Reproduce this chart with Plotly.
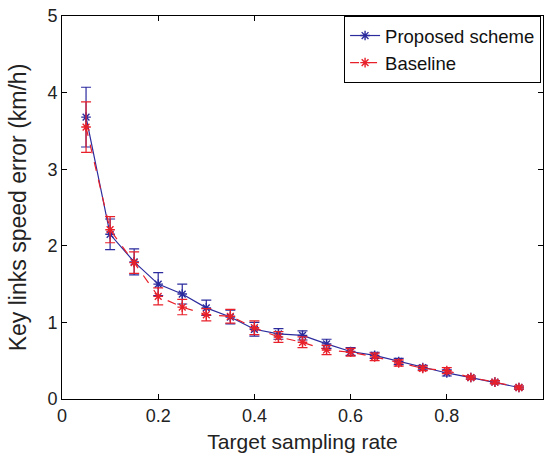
import plotly.graph_objects as go

rate = [0.05, 0.10, 0.15, 0.20, 0.25, 0.30, 0.35, 0.40, 0.45, 0.50,
        0.55, 0.60, 0.65, 0.70, 0.75, 0.80, 0.85, 0.90, 0.95]
proposed = [3.68, 2.15, 1.79, 1.50, 1.37, 1.19, 1.07, 0.91, 0.85, 0.83,
            0.72, 0.62, 0.57, 0.49, 0.41, 0.34, 0.28, 0.22, 0.15]
proposed_err = [0.39, 0.20, 0.17, 0.15, 0.13, 0.10, 0.09, 0.09, 0.07, 0.06,
                0.06, 0.05, 0.04, 0.04, 0.03, 0.04, 0.02, 0.02, 0.02]
baseline = [3.55, 2.21, 1.78, 1.34, 1.20, 1.10, 1.08, 0.93, 0.81, 0.74,
            0.64, 0.61, 0.55, 0.47, 0.40, 0.37, 0.28, 0.22, 0.15]
baseline_err = [0.33, 0.17, 0.14, 0.11, 0.10, 0.08, 0.09, 0.09, 0.07, 0.07,
                0.06, 0.05, 0.05, 0.04, 0.03, 0.04, 0.02, 0.02, 0.02]

blue = "#2b2b9e"
red = "#e8202a"

fig = go.Figure()
fig.add_trace(go.Scatter(
    x=rate, y=proposed, name="Proposed scheme", mode="lines+markers",
    line=dict(color=blue, width=1.2),
    marker=dict(symbol="asterisk-open", size=8, color=blue, line=dict(color=blue, width=1.4)),
    error_y=dict(type="data", array=proposed_err, color=blue, thickness=1.2, width=5),
))
fig.add_trace(go.Scatter(
    x=rate, y=baseline, name="Baseline", mode="lines+markers",
    line=dict(color=red, width=1.2, dash="dash"),
    marker=dict(symbol="asterisk-open", size=8, color=red, line=dict(color=red, width=1.4)),
    error_y=dict(type="data", array=baseline_err, color=red, thickness=1.2, width=5),
))

axis_common = dict(showline=True, linecolor="black", linewidth=1, mirror="ticks",
                   ticks="inside", ticklen=5, tickcolor="black", showgrid=False,
                   zeroline=False, automargin=False,
                   tickfont=dict(size=18, color="#222"))
fig.update_xaxes(range=[0, 1], dtick=0.2, tickformat=".1~f",
                 title=dict(text="Target sampling rate", font=dict(size=21, color="#222"), standoff=9),
                 **axis_common)
fig.update_yaxes(range=[0, 5], dtick=1,
                 title=dict(text="Key links speed error (km/h)", font=dict(size=23, color="#222"), standoff=14),
                 **axis_common)

fig.update_layout(
    width=544, height=458,
    margin=dict(l=62, r=1, t=16, b=59),
    paper_bgcolor="white", plot_bgcolor="white",
    font=dict(family="Liberation Sans, Arial, sans-serif", color="#222"),
    showlegend=True,
    legend=dict(x=0.996, y=1, xanchor="right", yanchor="top",
                bgcolor="white", bordercolor="black", borderwidth=1,
                font=dict(size=18.5, color="#111"), itemwidth=30,
                tracegroupgap=0),
)

fig.write_html("out.html", config={"displayModeBar": False},
               post_script="document.body.style.margin='0';")
